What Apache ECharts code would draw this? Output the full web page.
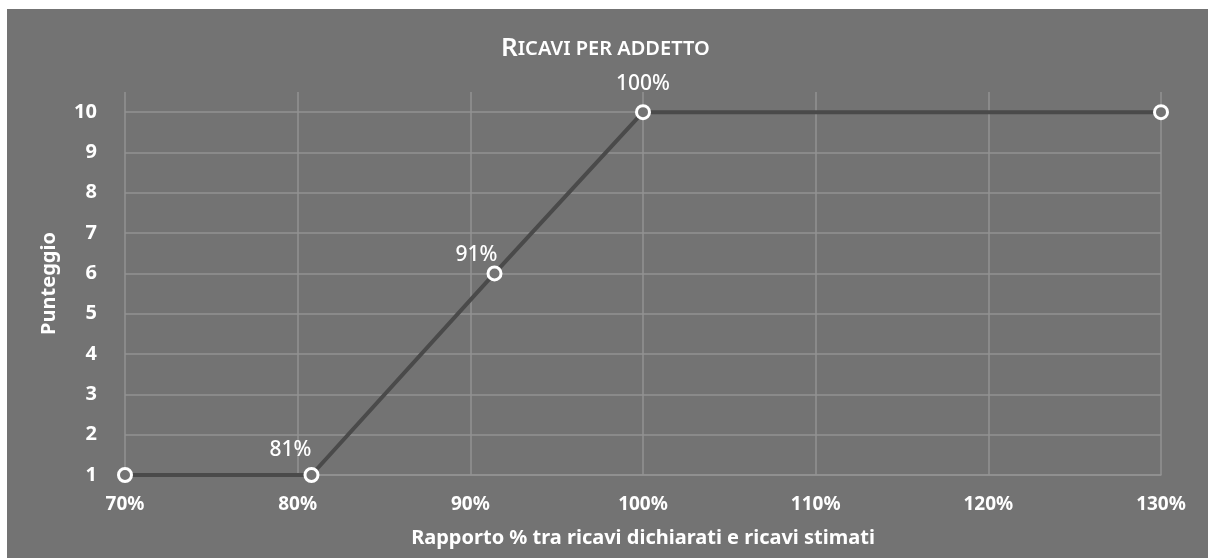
<!DOCTYPE html>
<html><head><meta charset="utf-8">
<script src="https://cdn.jsdelivr.net/npm/echarts@6/dist/echarts.min.js"></script>
<style>
html,body{margin:0;padding:0;background:#ffffff;width:1208px;height:558px;overflow:hidden;}
#c{position:absolute;left:7px;top:9px;width:1201px;height:549px;}
</style></head>
<body><div id="c"></div>
<script>
const xValues = [70, 80.8, 91.4, 100, 130];
const yValues = [1, 1, 6, 10, 10];
const pointLabels = ['', '81%', '91%', '100%', ''];
const xTicks = [70, 80, 90, 100, 110, 120, 130];
const yTicks = [1, 2, 3, 4, 5, 6, 7, 8, 9, 10];

const chart = echarts.init(document.getElementById('c'));
const FONT = '"Noto Sans", sans-serif';
const labelPlace = [
  { offset: [0, 0], distance: 5 },
  { offset: [-21, 0], distance: 6 },
  { offset: [-18, 0], distance: 0 },
  { offset: [0, 0], distance: 10 },
  { offset: [0, 0], distance: 5 }
];
const data = xValues.map((x, i) => ({
  value: [x, yValues[i]],
  label: {
    show: pointLabels[i] !== '',
    formatter: pointLabels[i],
    position: 'top',
    offset: labelPlace[i].offset,
    distance: labelPlace[i].distance
  }
}));
chart.setOption({
  backgroundColor: '#737373',
  animation: false,
  title: {
    text: '{a|R}{b|ICAVI PER ADDETTO}',
    left: 606 - 7 - 110,
    top: 22,
    textStyle: {
      rich: {
        a: { fontSize: 26, color: '#ffffff', fontFamily: FONT, fontWeight: 600 },
        b: { fontSize: 20, color: '#ffffff', fontFamily: FONT, fontWeight: 600 }
      }
    }
  },
  grid: { left: 118, top: 83, width: 1036, height: 383, containLabel: false },
  xAxis: {
    type: 'value',
    min: xTicks[0],
    max: xTicks[xTicks.length - 1],
    interval: 10,
    name: 'Rapporto % tra ricavi dichiarati e ricavi stimati',
    nameLocation: 'middle',
    nameGap: 53,
    nameTextStyle: { color: '#ffffff', fontSize: 20, fontWeight: 'bold', fontFamily: FONT },
    axisLine: { show: true, lineStyle: { color: '#929292', width: 1.5 } },
    axisTick: { show: false },
    axisLabel: { color: '#ffffff', fontSize: 19, fontWeight: 'bold', fontFamily: FONT, margin: 20, formatter: '{value}%' },
    splitLine: { show: true, lineStyle: { color: '#929292', width: 1.5 } }
  },
  yAxis: {
    type: 'value',
    min: yTicks[0],
    max: 10.5,
    interval: 1,
    name: 'Punteggio',
    nameLocation: 'middle',
    nameGap: 66,
    nameTextStyle: { color: '#ffffff', fontSize: 20, fontWeight: 'bold', fontFamily: FONT },
    axisLine: { show: false },
    axisTick: { show: false },
    axisLabel: { color: '#ffffff', fontSize: 20, fontWeight: 'bold', fontFamily: FONT, margin: 28, showMaxLabel: false },
    splitLine: { show: true, showMaxLine: false, lineStyle: { color: '#929292', width: 1.5 } }
  },
  series: [{
    type: 'line',
    data: data,
    symbol: 'circle',
    symbolSize: 13,
    lineStyle: { color: '#4a4a4a', width: 4 },
    itemStyle: { color: '#737373', borderColor: '#ffffff', borderWidth: 3 },
    label: { color: '#ffffff', fontSize: 21, fontFamily: FONT, fontWeight: 500 },
    z: 5
  }]
});
</script></body></html>
